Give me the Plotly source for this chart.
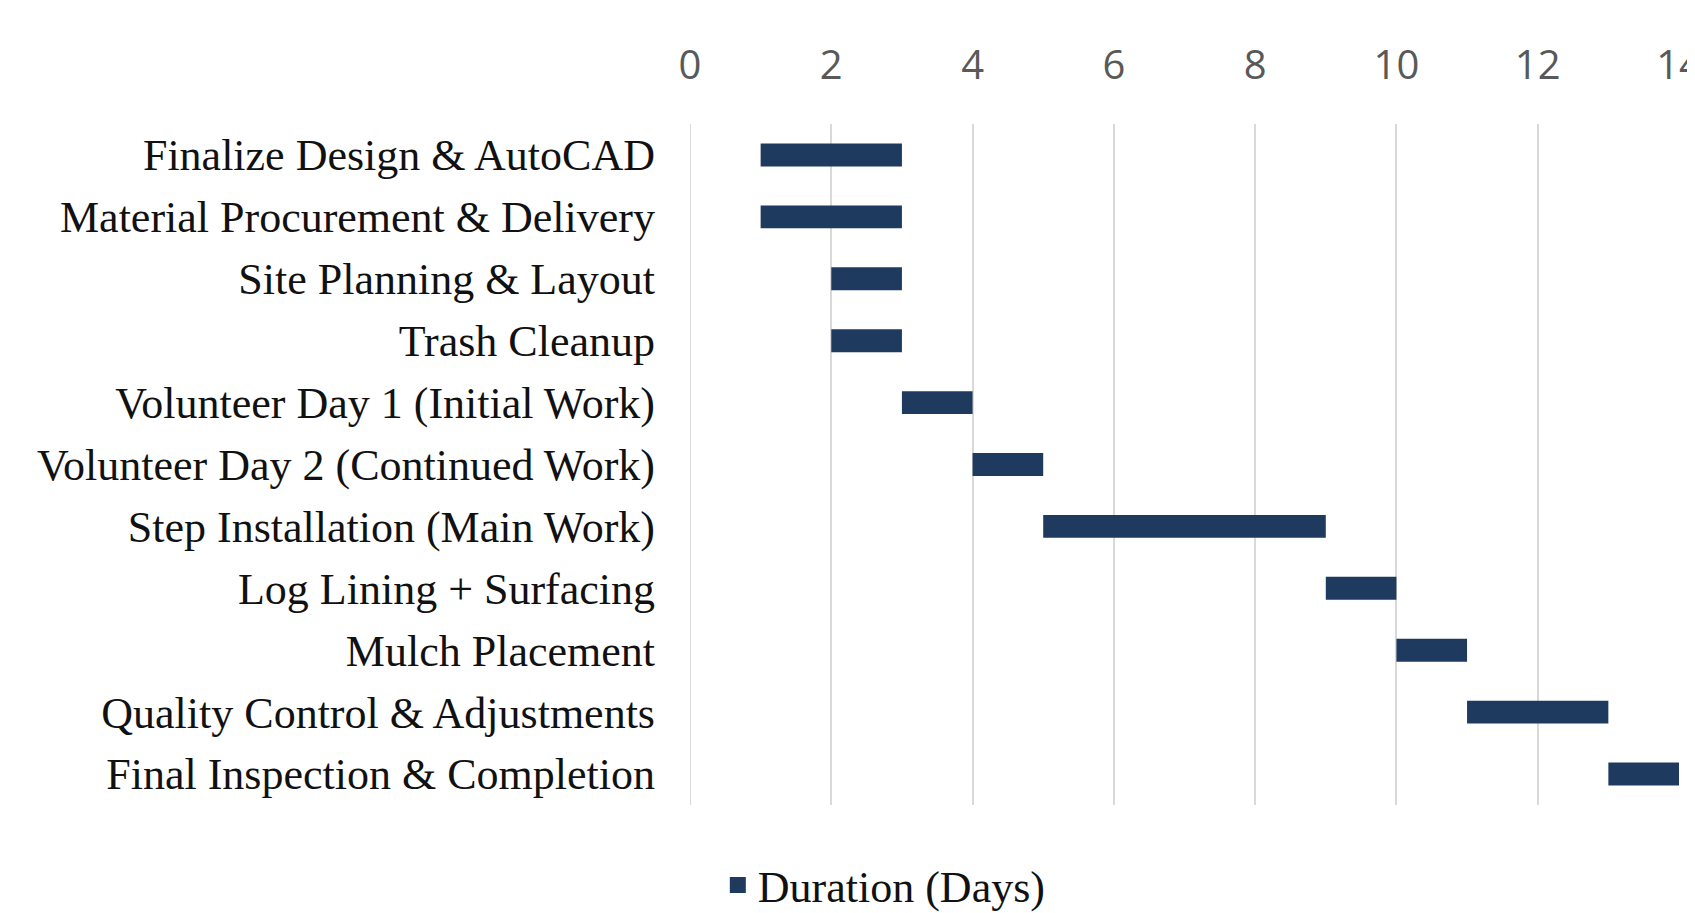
import plotly.graph_objects as go

tasks = [
    "Finalize Design & AutoCAD",
    "Material Procurement & Delivery",
    "Site Planning & Layout",
    "Trash Cleanup",
    "Volunteer Day 1 (Initial Work)",
    "Volunteer Day 2 (Continued Work)",
    "Step Installation (Main Work)",
    "Log Lining + Surfacing",
    "Mulch Placement",
    "Quality Control & Adjustments",
    "Final Inspection & Completion",
]
start_day = [1, 1, 2, 2, 3, 4, 5, 9, 10, 11, 13]
duration_days = [2, 2, 1, 1, 1, 1, 4, 1, 1, 2, 1]
x_ticks = [0, 2, 4, 6, 8, 10, 12, 14]

bar_color = "#1F3A5F"

fig = go.Figure()
fig.add_trace(go.Bar(
    y=tasks, x=duration_days, base=start_day, orientation="h",
    name="Duration (Days)", marker=dict(color=bar_color, line=dict(width=0)),
    showlegend=False,
))
# legend entry with a larger square symbol
fig.add_trace(go.Scatter(
    x=[None], y=[None], mode="markers", name="Duration (Days)",
    marker=dict(symbol="square", size=22, color=bar_color),
    showlegend=True, hoverinfo="skip",
))

fig.update_layout(
    width=1695, height=913,
    margin=dict(l=682, r=24, t=116, b=116, autoexpand=False),
    paper_bgcolor="white", plot_bgcolor="white",
    bargap=0.63,
    showlegend=True,
    legend=dict(orientation="h", xref="container", yref="container",
                x=0.517, y=-0.016, xanchor="center", yanchor="bottom",
                font=dict(family="Liberation Serif", size=44, color="#111111"),
                itemwidth=30, tracegroupgap=0),
    xaxis=dict(side="top", range=[0, 14], tickvals=x_ticks,
               showgrid=True, gridcolor="#D9D9D9", gridwidth=2,
               zeroline=False, showline=False, automargin=False,
               ticks="", ticklabelstandoff=36, ticklabeloverflow="allow",
               tickfont=dict(family="Open Sans", size=40, color="#595959")),
    yaxis=dict(autorange="reversed", showgrid=False, zeroline=False,
               automargin=False, ticks="", ticklabelstandoff=34,
               tickfont=dict(family="Liberation Serif", size=44, color="#111111")),
)
fig.add_shape(type="line", xref="x", yref="paper", x0=0, x1=0, y0=0, y1=1,
              line=dict(color="#D9D9D9", width=2), layer="below")

fig.write_html("out.html")
